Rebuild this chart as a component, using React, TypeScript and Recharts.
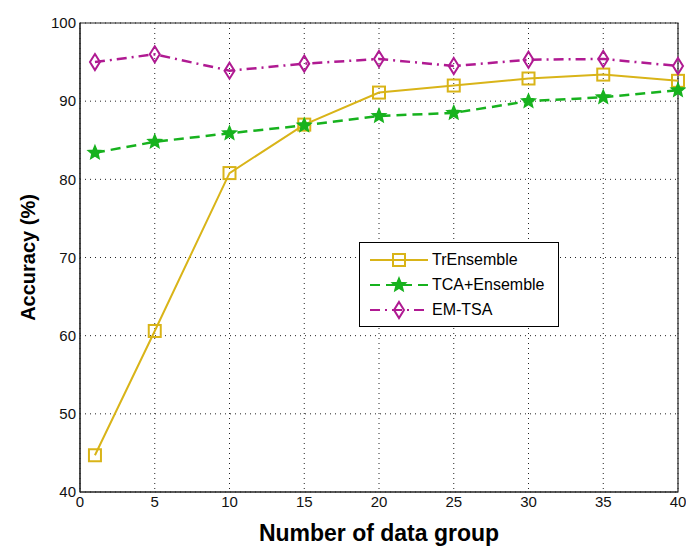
import React from 'react';
import { LineChart, Line, XAxis, YAxis, CartesianGrid, Legend, ReferenceArea } from 'recharts';

const GROUPS = [1, 5, 10, 15, 20, 25, 30, 35, 40];
const TR_ENSEMBLE = [44.7, 60.6, 80.8, 87.0, 91.1, 92.0, 92.9, 93.4, 92.6];
const TCA_ENSEMBLE = [83.4, 84.8, 85.9, 86.9, 88.1, 88.5, 90.0, 90.5, 91.4];
const EM_TSA = [95.0, 96.0, 93.9, 94.8, 95.4, 94.5, 95.3, 95.4, 94.5];

const X_TICKS = [0, 5, 10, 15, 20, 25, 30, 35, 40];
const Y_TICKS = [40, 50, 60, 70, 80, 90, 100];

const GOLD = '#D9B418';
const GREEN = '#17B21E';
const MAGENTA = '#B01A92';
const FONT = '"Liberation Sans", Arial, sans-serif';

const data = GROUPS.map((g, i) => ({
  group: g,
  tr: TR_ENSEMBLE[i],
  tca: TCA_ENSEMBLE[i],
  em: EM_TSA[i],
}));

const starPoints = (cx: number, cy: number, r: number) => {
  const pts: string[] = [];
  for (let i = 0; i < 10; i++) {
    const rad = i % 2 === 0 ? r : r * 0.45;
    const a = -Math.PI / 2 + (i * Math.PI) / 5;
    pts.push(`${cx + rad * Math.cos(a)},${cy + rad * Math.sin(a)}`);
  }
  return pts.join(' ');
};

const SquareMark = ({ cx, cy }: any) => (
  <rect x={cx - 6} y={cy - 6} width={12} height={12} fill="none" stroke={GOLD} strokeWidth={2} />
);

const StarMark = ({ cx, cy }: any) => (
  <polygon points={starPoints(cx, cy, 7)} fill={GREEN} stroke={GREEN} strokeWidth={1.5} />
);

const DiamondMark = ({ cx, cy }: any) => (
  <polygon
    points={`${cx},${cy - 8} ${cx + 5},${cy} ${cx},${cy + 8} ${cx - 5},${cy}`}
    fill="none"
    stroke={MAGENTA}
    strokeWidth={2}
  />
);

const SERIES = [
  { name: 'TrEnsemble', color: GOLD, dash: undefined, Mark: SquareMark },
  { name: 'TCA+Ensemble', color: GREEN, dash: '10 6', Mark: StarMark },
  { name: 'EM-TSA', color: MAGENTA, dash: '10 5 2 5', Mark: DiamondMark },
];

const LegendBox = () => (
  <div
    style={{
      border: '1px solid #000',
      background: '#fff',
      width: 198,
      padding: '4px 0',
      fontFamily: FONT,
      fontSize: 16,
      color: '#000',
    }}
  >
    {SERIES.map((s) => (
      <div key={s.name} style={{ display: 'flex', alignItems: 'center', height: 25 }}>
        <svg width={68} height={20} style={{ marginLeft: 2 }}>
          <line x1={8} y1={10} x2={66} y2={10} stroke={s.color} strokeWidth={2} strokeDasharray={s.dash} />
          <s.Mark cx={37} cy={10} />
        </svg>
        <span style={{ marginLeft: 2 }}>{s.name}</span>
      </div>
    ))}
  </div>
);

export default function App() {
  return (
    <div style={{ position: 'absolute', left: 0, top: 0, background: '#fff' }}>
      <LineChart width={686} height={547} data={data} margin={{ top: 23, right: 8, bottom: 0, left: 0 }}>
        <CartesianGrid stroke="#222" strokeDasharray="1 4" />
        <XAxis
          dataKey="group"
          type="number"
          domain={[0, 40]}
          ticks={X_TICKS}
          height={55}
          tickLine={false}
          tickSize={0}
          axisLine={{ stroke: '#222' }}
          tick={{ fill: '#111', fontSize: 15, fontFamily: FONT }}
          tickMargin={4}
          label={{
            value: 'Number of data group',
            position: 'insideBottom',
            offset: 6,
            style: { fontSize: 23, fontWeight: 'bold', fill: '#000', fontFamily: FONT },
          }}
        />
        <YAxis
          type="number"
          domain={[40, 100]}
          ticks={Y_TICKS}
          width={80}
          tickLine={false}
          tickSize={0}
          axisLine={{ stroke: '#222' }}
          tick={{ fill: '#111', fontSize: 15, fontFamily: FONT }}
          tickMargin={4}
          label={{
            value: 'Accuracy (%)',
            angle: -90,
            position: 'insideLeft',
            offset: 28,
            style: { fontSize: 20, fontWeight: 'bold', fill: '#000', fontFamily: FONT, textAnchor: 'middle' },
          }}
        />
        <XAxis xAxisId="top" orientation="top" type="number" dataKey="group" domain={[0, 40]} ticks={X_TICKS} mirror tick={false} tickSize={5} axisLine={false} tickLine={{ stroke: '#222' }} />
        <YAxis yAxisId="right" orientation="right" type="number" domain={[40, 100]} ticks={Y_TICKS} mirror tick={false} tickSize={5} axisLine={false} tickLine={{ stroke: '#222' }} />
        <ReferenceArea x1={0} x2={40} y1={40} y2={100} fill="none" stroke="#222" strokeWidth={1.2} ifOverflow="visible" />
        <Line
          dataKey="tr"
          name="TrEnsemble"
          stroke={GOLD}
          strokeWidth={2}
          dot={<SquareMark />}
          isAnimationActive={false}
        />
        <Line
          dataKey="tca"
          name="TCA+Ensemble"
          stroke={GREEN}
          strokeWidth={2.5}
          strokeDasharray="10 6"
          dot={<StarMark />}
          isAnimationActive={false}
        />
        <Line
          dataKey="em"
          name="EM-TSA"
          stroke={MAGENTA}
          strokeWidth={2.5}
          strokeDasharray="10 5 2 5"
          dot={<DiamondMark />}
          isAnimationActive={false}
        />
        <Legend
          layout="vertical"
          align="center"
          verticalAlign="middle"
          content={<LegendBox />}
          wrapperStyle={{ left: 359, top: 242, width: 200 }}
        />
      </LineChart>
    </div>
  );
}
